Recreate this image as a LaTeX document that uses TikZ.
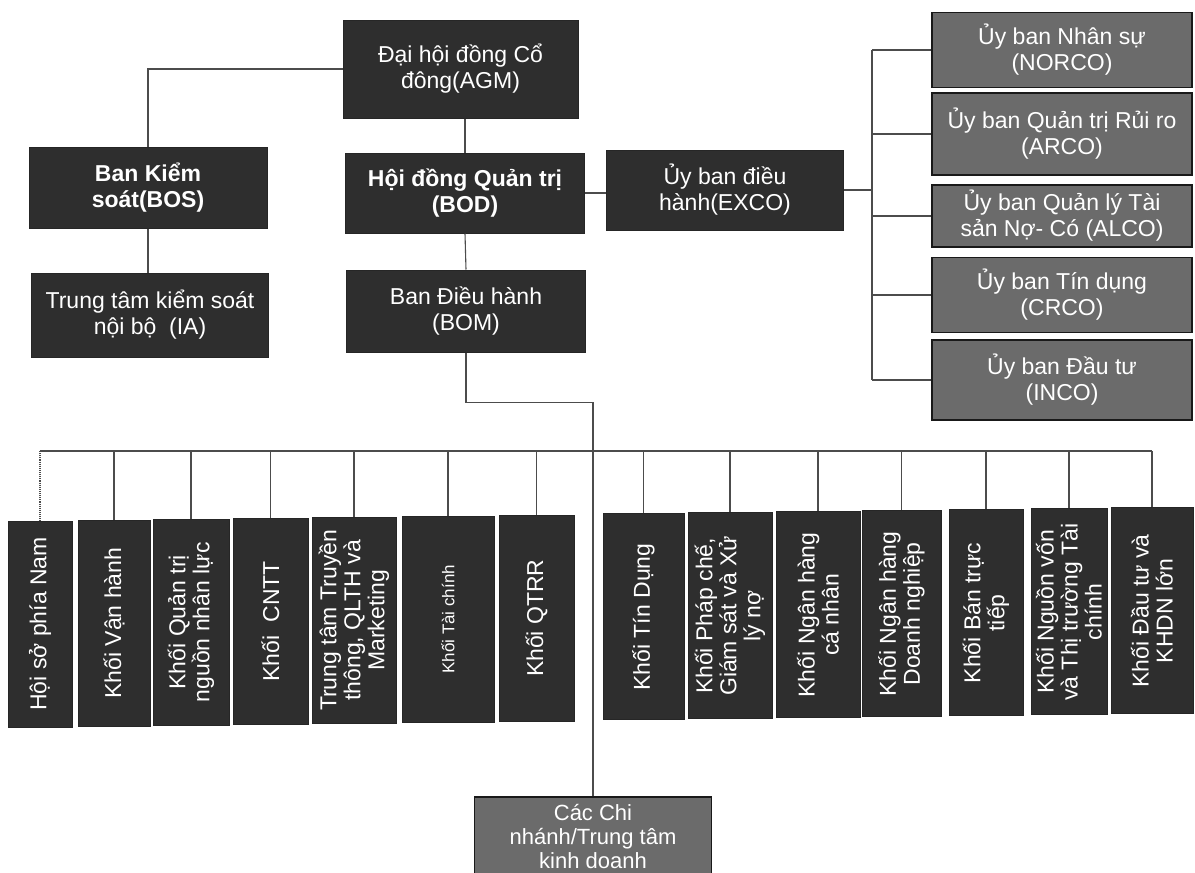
\documentclass[tikz,border=0pt]{standalone}
\usepackage{fontspec}
\setmainfont{Liberation Sans}
\usetikzlibrary{positioning}

\tikzset{
  box/.style={draw=black!85, fill=black!82, text=white, align=center,
    inner sep=2pt, line width=1pt, font=\fontsize{23}{26}\selectfont},
  board/.style={box, font=\bfseries\fontsize{23}{26}\selectfont},
  cmte/.style={box, fill=black!58, draw=black!90, line width=1.4pt,
    minimum width=260pt},
  unit/.style={box, rotate=90, minimum width=206pt,
    font=\fontsize{23}{24}\selectfont},
  link/.style={draw=black!70, line width=1.1pt},
}

\begin{document}
\begin{tikzpicture}[x=1pt,y=-1pt]
  \clip (0,0) rectangle (1195,873);
  \fill[white] (0,0) rectangle (1195,873);

  % top of the chart
  \node[box, minimum width=235pt, minimum height=98pt] (agm) at (460.5,69) {Đại hội đồng Cổ\\đông(AGM)};
  \node[board, minimum width=238pt, minimum height=81pt] (bos) at (148,188) {Ban Kiểm\\soát(BOS)};
  \node[box, minimum width=237pt, minimum height=84pt] (ia) at (150,315) {Trung tâm kiểm soát\\nội bộ~~(IA)};
  \node[board, minimum width=239pt, minimum height=80pt] (bod) at (465,193) {Hội đồng Quản trị\\(BOD)};
  \node[box, minimum width=239pt, minimum height=82pt] (bom) at (466,311) {Ban Điều hành\\(BOM)};
  \node[box, minimum width=237pt, minimum height=80pt] (exco) at (725,190) {Ủy ban điều\\hành(EXCO)};

  % committees
  \node[cmte, minimum height=75pt] (norco) at (1062,50) {Ủy ban Nhân sự\\(NORCO)};
  \node[cmte, minimum height=82pt] (arco) at (1062,134) {Ủy ban Quản trị Rủi ro\\(ARCO)};
  \node[cmte, minimum height=62pt] (alco) at (1062,216) {Ủy ban Quản lý Tài\\sản Nợ- Có (ALCO)};
  \node[cmte, minimum height=75pt] (crco) at (1062,295) {Ủy ban Tín dụng\\(CRCO)};
  \node[cmte, minimum height=80pt] (inco) at (1062,380) {Ủy ban Đầu tư\\(INCO)};

  \node[cmte, minimum width=237pt, minimum height=78pt, font=\fontsize{22}{24}\selectfont] (cn) at (593,836) {Các Chi\\nhánh/Trung tâm\\kinh doanh};

  \coordinate (brk) at (872,0);
  \coordinate (bus) at (0,451);

  \draw[link] (agm.west) -| (bos.north);
  \draw[link] (bos.south) -- (bos.south |- ia.north);
  \draw[link] (bod.north |- agm.south) -- (bod.north);
  \draw[link] (bod.south) -- (bom.north);
  \draw[link] (bod.east) -- (bod.east -| exco.west);
  \draw[link] (exco.east) -- (exco.east -| brk);
  \draw[link] (norco.west -| brk) -- (inco.west -| brk);
  \foreach \c in {norco,arco,alco,crco,inco}
    \draw[link] (\c.west -| brk) -- (\c.west);
  \draw[link] (bom.south) -- ++(0,50) -| (cn.north);

  % blocks under the bus
  \foreach \n/\x/\w/\t in {
      hs/40/64/{Hội sở phía Nam},
      vh/114/72/{Khối Vận hành},
      nl/191/76/{Khối Quản trị\\nguồn nhân lực},
      cntt/270.5/75/{Khối~~CNTT},
      tt/354/84/{Trung tâm Truyền\\thông, QLTH và\\Marketing},
      tc/448/92/{\fontsize{17}{20}\selectfont Khối Tài chính},
      qtrr/536.5/75/{Khối QTRR},
      td/643.5/81/{Khối Tín Dụng},
      pc/730/84/{Khối Pháp chế,\\Giám sát và Xử\\lý nợ},
      nhcn/818/84/{Khối Ngân hàng\\cá nhân},
      nhdn/901.5/79/{Khối Ngân hàng\\Doanh nghiệp},
      btt/986/74/{Khối Bán trực\\tiếp},
      nv/1069/76/{Khối Nguồn vốn\\và Thị trường Tài\\chính},
      dt/1152/82/{Khối Đầu tư và\\KHDN lớn}}
    \node[unit, minimum height=\w pt] (\n) at (\x,{624-0.0117*(\x-40)}) {\t};

  \draw[link] (hs.east |- bus) -- (dt.east |- bus);
  \draw[link, densely dotted] (hs.east |- bus) -- (hs.east);
  \foreach \n in {vh,nl,cntt,tt,tc,qtrr,td,pc,nhcn,nhdn,btt,nv,dt}
    \draw[link] (\n.east |- bus) -- (\n.east);
\end{tikzpicture}
\end{document}
